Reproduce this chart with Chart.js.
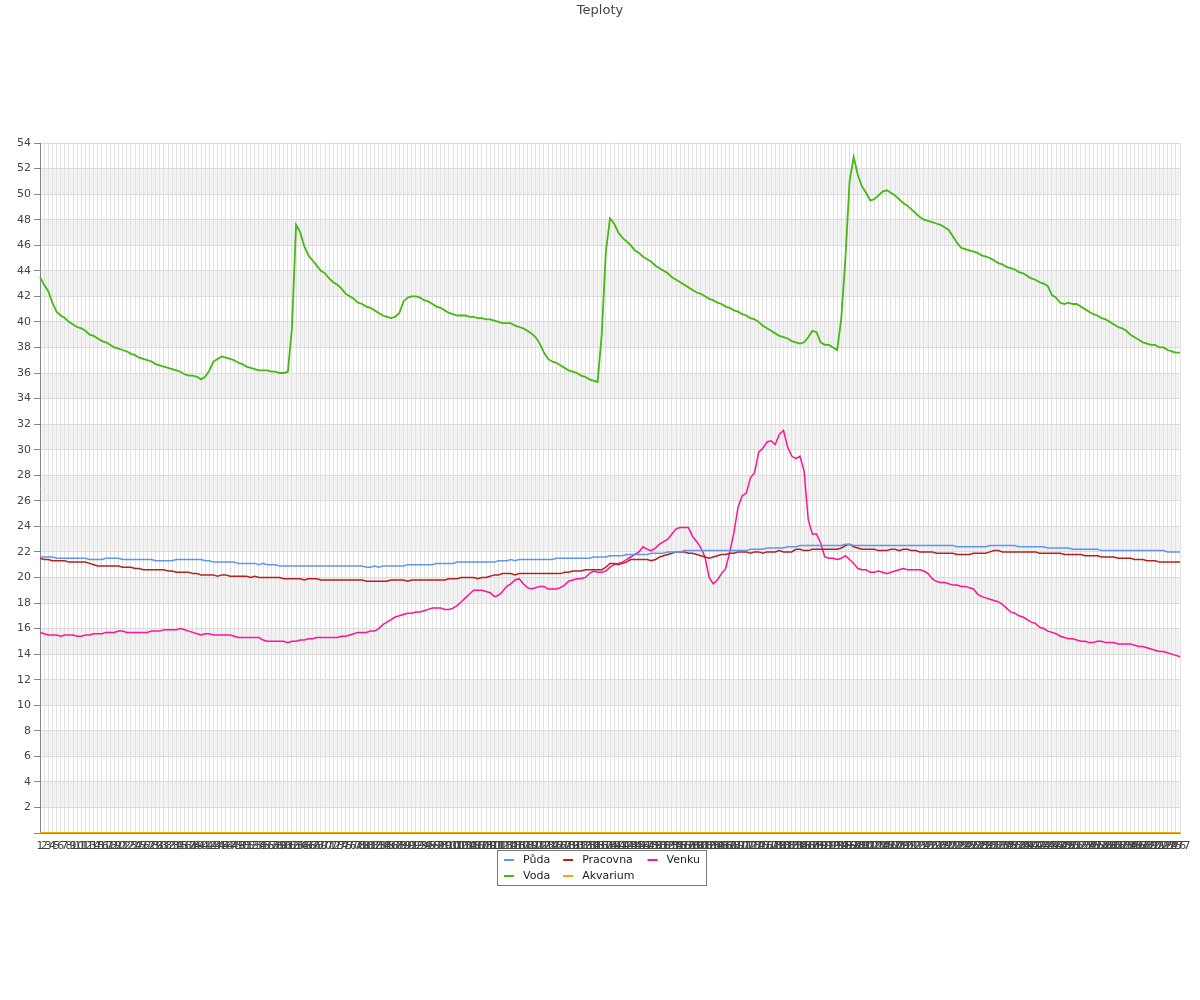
<!DOCTYPE html>
<html>
<head>
<meta charset="utf-8">
<title>Teploty</title>
<script src="https://cdn.jsdelivr.net/npm/chart.js@4.4.1/dist/chart.umd.min.js"></script>
<style>
  body { margin: 0; background: #fff; }
  #wrap { width: 1200px; height: 1000px; }
</style>
</head>
<body>
<div id="wrap"><canvas id="teploty" width="1200" height="1000"></canvas></div>
<script>
// categories: measurement index 1..277
var labels = [];
for (var n = 1; n <= 277; n++) labels.push(String(n));

// teploty (°C)
var puda = [
  21.6,21.6,21.6,21.6,21.5,21.5,21.5,21.5,21.5,21.5,
  21.5,21.5,21.4,21.4,21.4,21.4,21.5,21.5,21.5,21.5,
  21.4,21.4,21.4,21.4,21.4,21.4,21.4,21.4,21.3,21.3,
  21.3,21.3,21.3,21.4,21.4,21.4,21.4,21.4,21.4,21.4,
  21.3,21.3,21.2,21.2,21.2,21.2,21.2,21.2,21.1,21.1,
  21.1,21.1,21.1,21.0,21.1,21.0,21.0,21.0,20.9,20.9,
  20.9,20.9,20.9,20.9,20.9,20.9,20.9,20.9,20.9,20.9,
  20.9,20.9,20.9,20.9,20.9,20.9,20.9,20.9,20.9,20.8,
  20.8,20.9,20.8,20.9,20.9,20.9,20.9,20.9,20.9,21.0,
  21.0,21.0,21.0,21.0,21.0,21.0,21.1,21.1,21.1,21.1,
  21.1,21.2,21.2,21.2,21.2,21.2,21.2,21.2,21.2,21.2,
  21.2,21.3,21.3,21.3,21.4,21.3,21.4,21.4,21.4,21.4,
  21.4,21.4,21.4,21.4,21.4,21.5,21.5,21.5,21.5,21.5,
  21.5,21.5,21.5,21.5,21.6,21.6,21.6,21.6,21.7,21.7,
  21.7,21.7,21.8,21.8,21.8,21.8,21.8,21.8,21.9,21.9,
  21.9,21.9,22.0,22.0,22.0,22.0,22.1,22.1,22.1,22.1,
  22.1,22.1,22.1,22.1,22.1,22.1,22.1,22.1,22.1,22.1,
  22.1,22.1,22.2,22.2,22.2,22.2,22.3,22.3,22.3,22.3,
  22.3,22.4,22.4,22.4,22.5,22.5,22.5,22.5,22.5,22.5,
  22.5,22.5,22.5,22.5,22.5,22.6,22.6,22.5,22.5,22.5,
  22.5,22.5,22.5,22.5,22.5,22.5,22.5,22.5,22.5,22.5,
  22.5,22.5,22.5,22.5,22.5,22.5,22.5,22.5,22.5,22.5,
  22.5,22.5,22.4,22.4,22.4,22.4,22.4,22.4,22.4,22.4,
  22.5,22.5,22.5,22.5,22.5,22.5,22.5,22.4,22.4,22.4,
  22.4,22.4,22.4,22.4,22.3,22.3,22.3,22.3,22.3,22.3,
  22.2,22.2,22.2,22.2,22.2,22.2,22.2,22.1,22.1,22.1,
  22.1,22.1,22.1,22.1,22.1,22.1,22.1,22.1,22.1,22.1,
  22.1,22.1,22.1,22.0,22.0,22.0,22.0
];

var voda = [
  43.5,42.9,42.4,41.5,40.8,40.5,40.3,40.0,39.8,39.6,
  39.5,39.3,39.0,38.9,38.7,38.5,38.4,38.2,38.0,37.9,
  37.8,37.7,37.5,37.4,37.2,37.1,37.0,36.9,36.7,36.6,
  36.5,36.4,36.3,36.2,36.1,35.9,35.8,35.8,35.7,35.5,
  35.7,36.2,36.9,37.1,37.3,37.2,37.1,37.0,36.8,36.7,
  36.5,36.4,36.3,36.2,36.2,36.2,36.1,36.1,36.0,36.0,
  36.1,39.5,47.6,47.0,45.9,45.2,44.8,44.4,44.0,43.8,
  43.4,43.1,42.9,42.6,42.2,42.0,41.8,41.5,41.4,41.2,
  41.1,40.9,40.7,40.5,40.4,40.3,40.4,40.7,41.6,41.9,
  42.0,42.0,41.9,41.7,41.6,41.4,41.2,41.1,40.9,40.7,
  40.6,40.5,40.5,40.5,40.4,40.4,40.3,40.3,40.2,40.2,
  40.1,40.0,39.9,39.9,39.9,39.7,39.6,39.5,39.3,39.1,
  38.8,38.3,37.6,37.1,36.9,36.8,36.6,36.4,36.2,36.1,
  36.0,35.8,35.7,35.5,35.4,35.3,39.0,45.5,48.1,47.7,
  47.0,46.6,46.3,46.0,45.6,45.4,45.1,44.9,44.7,44.4,
  44.2,44.0,43.8,43.5,43.3,43.1,42.9,42.7,42.5,42.3,
  42.2,42.0,41.8,41.7,41.5,41.4,41.2,41.1,40.9,40.8,
  40.6,40.5,40.3,40.2,40.0,39.7,39.5,39.3,39.1,38.9,
  38.8,38.7,38.5,38.4,38.3,38.4,38.8,39.3,39.2,38.4,
  38.2,38.2,38.0,37.8,40.3,45.0,51.0,52.9,51.5,50.6,
  50.1,49.5,49.6,49.9,50.2,50.3,50.1,49.9,49.6,49.3,
  49.1,48.8,48.5,48.2,48.0,47.9,47.8,47.7,47.6,47.4,
  47.2,46.7,46.2,45.8,45.7,45.6,45.5,45.4,45.2,45.1,
  45.0,44.8,44.6,44.5,44.3,44.2,44.1,43.9,43.8,43.6,
  43.4,43.3,43.1,43.0,42.8,42.1,41.9,41.5,41.4,41.5,
  41.4,41.4,41.2,41.0,40.8,40.6,40.5,40.3,40.2,40.0,
  39.8,39.6,39.5,39.3,39.0,38.8,38.6,38.4,38.3,38.2,
  38.2,38.0,38.0,37.8,37.7,37.6,37.6
];

var pracovna = [
  21.5,21.4,21.4,21.3,21.3,21.3,21.3,21.2,21.2,21.2,
  21.2,21.2,21.1,21.0,20.9,20.9,20.9,20.9,20.9,20.9,
  20.8,20.8,20.8,20.7,20.7,20.6,20.6,20.6,20.6,20.6,
  20.6,20.5,20.5,20.4,20.4,20.4,20.4,20.3,20.3,20.2,
  20.2,20.2,20.2,20.1,20.2,20.2,20.1,20.1,20.1,20.1,
  20.1,20.0,20.1,20.0,20.0,20.0,20.0,20.0,20.0,19.9,
  19.9,19.9,19.9,19.9,19.8,19.9,19.9,19.9,19.8,19.8,
  19.8,19.8,19.8,19.8,19.8,19.8,19.8,19.8,19.8,19.7,
  19.7,19.7,19.7,19.7,19.7,19.8,19.8,19.8,19.8,19.7,
  19.8,19.8,19.8,19.8,19.8,19.8,19.8,19.8,19.8,19.9,
  19.9,19.9,20.0,20.0,20.0,20.0,19.9,20.0,20.0,20.1,
  20.2,20.2,20.3,20.3,20.3,20.2,20.3,20.3,20.3,20.3,
  20.3,20.3,20.3,20.3,20.3,20.3,20.3,20.4,20.4,20.5,
  20.5,20.5,20.6,20.6,20.6,20.6,20.6,20.8,21.1,21.1,
  21.0,21.1,21.2,21.4,21.4,21.4,21.4,21.4,21.3,21.4,
  21.6,21.7,21.8,21.9,22.0,22.0,22.0,21.9,21.9,21.8,
  21.7,21.6,21.5,21.6,21.7,21.8,21.8,21.9,21.9,22.0,
  22.0,22.0,21.9,22.0,22.0,21.9,22.0,22.0,22.0,22.1,
  22.0,22.0,22.0,22.2,22.2,22.1,22.1,22.2,22.2,22.2,
  22.2,22.2,22.2,22.2,22.3,22.5,22.6,22.4,22.3,22.2,
  22.2,22.2,22.2,22.1,22.1,22.1,22.2,22.2,22.1,22.2,
  22.2,22.1,22.1,22.0,22.0,22.0,22.0,21.9,21.9,21.9,
  21.9,21.9,21.8,21.8,21.8,21.8,21.9,21.9,21.9,21.9,
  22.0,22.1,22.1,22.0,22.0,22.0,22.0,22.0,22.0,22.0,
  22.0,22.0,21.9,21.9,21.9,21.9,21.9,21.9,21.8,21.8,
  21.8,21.8,21.8,21.7,21.7,21.7,21.7,21.6,21.6,21.6,
  21.6,21.5,21.5,21.5,21.5,21.4,21.4,21.4,21.3,21.3,
  21.3,21.2,21.2,21.2,21.2,21.2,21.2
];

var akvarium = [
  0,0,0,0,0,0,0,0,0,0, 0,0,0,0,0,0,0,0,0,0, 0,0,0,0,0,0,0,0,0,0,
  0,0,0,0,0,0,0,0,0,0, 0,0,0,0,0,0,0,0,0,0, 0,0,0,0,0,0,0,0,0,0,
  0,0,0,0,0,0,0,0,0,0, 0,0,0,0,0,0,0,0,0,0, 0,0,0,0,0,0,0,0,0,0,
  0,0,0,0,0,0,0,0,0,0, 0,0,0,0,0,0,0,0,0,0, 0,0,0,0,0,0,0,0,0,0,
  0,0,0,0,0,0,0,0,0,0, 0,0,0,0,0,0,0,0,0,0, 0,0,0,0,0,0,0,0,0,0,
  0,0,0,0,0,0,0,0,0,0, 0,0,0,0,0,0,0,0,0,0, 0,0,0,0,0,0,0,0,0,0,
  0,0,0,0,0,0,0,0,0,0, 0,0,0,0,0,0,0,0,0,0, 0,0,0,0,0,0,0,0,0,0,
  0,0,0,0,0,0,0,0,0,0, 0,0,0,0,0,0,0,0,0,0, 0,0,0,0,0,0,0,0,0,0,
  0,0,0,0,0,0,0,0,0,0, 0,0,0,0,0,0,0,0,0,0, 0,0,0,0,0,0,0,0,0,0,
  0,0,0,0,0,0,0
];

var venku = [
  15.7,15.6,15.5,15.5,15.5,15.4,15.5,15.5,15.5,15.4,
  15.4,15.5,15.5,15.6,15.6,15.6,15.7,15.7,15.7,15.8,
  15.8,15.7,15.7,15.7,15.7,15.7,15.7,15.8,15.8,15.8,
  15.9,15.9,15.9,15.9,16.0,15.9,15.8,15.7,15.6,15.5,
  15.6,15.6,15.5,15.5,15.5,15.5,15.5,15.4,15.3,15.3,
  15.3,15.3,15.3,15.3,15.1,15.0,15.0,15.0,15.0,15.0,
  14.9,15.0,15.0,15.1,15.1,15.2,15.2,15.3,15.3,15.3,
  15.3,15.3,15.3,15.4,15.4,15.5,15.6,15.7,15.7,15.7,
  15.8,15.8,16.0,16.3,16.5,16.7,16.9,17.0,17.1,17.2,
  17.2,17.3,17.3,17.4,17.5,17.6,17.6,17.6,17.5,17.5,
  17.6,17.8,18.1,18.4,18.7,19.0,19.0,19.0,18.9,18.8,
  18.5,18.6,18.9,19.3,19.5,19.8,19.9,19.5,19.2,19.1,
  19.2,19.3,19.3,19.1,19.1,19.1,19.2,19.4,19.7,19.8,
  19.9,19.9,20.0,20.3,20.5,20.4,20.4,20.5,20.8,21.0,
  21.1,21.2,21.4,21.6,21.8,22.0,22.4,22.2,22.1,22.3,
  22.6,22.8,23.0,23.4,23.8,23.9,23.9,23.9,23.2,22.8,
  22.3,21.6,20.0,19.5,19.8,20.3,20.7,22.0,23.5,25.5,
  26.4,26.6,27.8,28.2,29.8,30.1,30.6,30.7,30.4,31.2,
  31.5,30.2,29.5,29.3,29.5,28.3,24.5,23.4,23.4,22.7,
  21.6,21.5,21.5,21.4,21.5,21.7,21.4,21.1,20.7,20.6,
  20.6,20.4,20.4,20.5,20.4,20.3,20.4,20.5,20.6,20.7,
  20.6,20.6,20.6,20.6,20.5,20.3,19.9,19.7,19.6,19.6,
  19.5,19.4,19.4,19.3,19.3,19.2,19.1,18.7,18.5,18.4,
  18.3,18.2,18.1,17.9,17.6,17.3,17.2,17.0,16.9,16.7,
  16.5,16.4,16.1,16.0,15.8,15.7,15.6,15.4,15.3,15.2,
  15.2,15.1,15.0,15.0,14.9,14.9,15.0,15.0,14.9,14.9,
  14.9,14.8,14.8,14.8,14.8,14.7,14.6,14.6,14.5,14.4,
  14.3,14.2,14.2,14.1,14.0,13.9,13.8
];

var yMin = 0, yMax = 54;

// sede pruhy za grafem (kazde druhe pole)
var pruhy = {
  id: 'pruhy',
  beforeDraw: function(chart) {
    var a = chart.chartArea, y = chart.scales.y, ctx = chart.ctx;
    ctx.save();
    ctx.fillStyle = '#f2f2f2';
    for (var v = 2; v < yMax; v += 4) {
      var top = y.getPixelForValue(v + 2), bot = y.getPixelForValue(v);
      ctx.fillRect(a.left, top, a.right - a.left, bot - top);
    }
    ctx.restore();
  }
};

// legenda v ramecku, sloupce po dvou radcich
var legenda = {
  id: 'legenda',
  afterDraw: function(chart) {
    var ctx = chart.ctx, ds = chart.data.datasets;
    ctx.save();
    ctx.font = '11px "DejaVu Sans"';
    var rows = 2, cols = Math.ceil(ds.length / rows);
    var widths = [];
    for (var c = 0; c < cols; c++) {
      var w = 0;
      for (var r = 0; r < rows; r++) {
        var d = ds[c * rows + r];
        if (d) w = Math.max(w, ctx.measureText(d.label).width);
      }
      widths.push(10 + 9 + w);
    }
    var gap = 13, pad = 6.5;
    var total = pad * 2 + widths.reduce(function(s, w) { return s + w; }, 0) + gap * (cols - 1);
    var left = Math.round(601 - total / 2) + 0.5, top = 850.5;
    ctx.strokeStyle = '#777';
    ctx.lineWidth = 1;
    ctx.strokeRect(left, top, Math.round(total), 35);
    var x = left + pad;
    for (c = 0; c < cols; c++) {
      for (r = 0; r < rows; r++) {
        d = ds[c * rows + r];
        if (!d) continue;
        var yy = top + 9.5 + r * 16;
        ctx.strokeStyle = d.borderColor;
        ctx.lineWidth = 2;
        ctx.beginPath();
        ctx.moveTo(x, yy);
        ctx.lineTo(x + 10, yy);
        ctx.stroke();
        ctx.fillStyle = '#222';
        ctx.textBaseline = 'middle';
        ctx.textAlign = 'left';
        ctx.fillText(d.label, x + 19, yy);
      }
      x += widths[c] + gap;
    }
    ctx.restore();
  }
};

Chart.defaults.font.family = '"DejaVu Sans", sans-serif';
Chart.defaults.color = '#444';

new Chart(document.getElementById('teploty'), {
  type: 'line',
  data: {
    labels: labels,
    datasets: [
      { label: 'Půda', data: puda, borderColor: '#6495ed', borderWidth: 1.5 },
      { label: 'Voda', data: voda, borderColor: '#46b812', borderWidth: 1.8 },
      { label: 'Pracovna', data: pracovna, borderColor: '#b22222', borderWidth: 1.5 },
      { label: 'Akvarium', data: akvarium, borderColor: '#ffa500', borderWidth: 2 },
      { label: 'Venku', data: venku, borderColor: '#ff1493', borderWidth: 1.5 }
    ]
  },
  options: {
    responsive: false,
    animation: false,
    elements: { point: { radius: 0 }, line: { tension: 0 } },
    layout: { padding: { left: 0, right: 0, top: 0, bottom: 147 } },
    plugins: {
      legend: { display: false },
      tooltip: { enabled: false },
      title: {
        display: true,
        text: 'Teploty',
        color: '#444',
        font: { size: 13, weight: 'normal' },
        padding: { top: 3, bottom: 124.4 }
      }
    },
    scales: {
      x: {
        offset: false,
        grid: { color: '#e2e2e2', drawTicks: false },
        border: { color: '#888' },
        ticks: { autoSkip: false, maxRotation: 0, minRotation: 0, padding: 7, color: '#444', font: { size: 11 } },
        afterFit: function(s) { s.height = 20; }
      },
      y: {
        min: yMin,
        max: yMax,
        grid: {
          color: function(c) { return c.tick.value % 2 === 0 ? '#dcdcdc' : 'rgba(0,0,0,0)'; },
          tickColor: '#888',
          tickLength: 6
        },
        border: { color: '#888' },
        ticks: {
          stepSize: 1,
          padding: 3,
          color: '#444',
          font: { size: 11 },
          callback: function(v) { return (v % 2 === 0 && v !== 0) ? v : ''; }
        },
        afterFit: function(s) { s.width = 40; }
      },
      // prazdny okraj vpravo, aby titulek zustal uprostred platna
      okraj: {
        type: 'linear',
        position: 'right',
        grid: { drawOnChartArea: false, drawTicks: false },
        border: { display: false },
        ticks: { display: false },
        afterFit: function(s) { s.width = 20; }
      }
    }
  },
  plugins: [pruhy, legenda]
});
</script>
</body>
</html>
